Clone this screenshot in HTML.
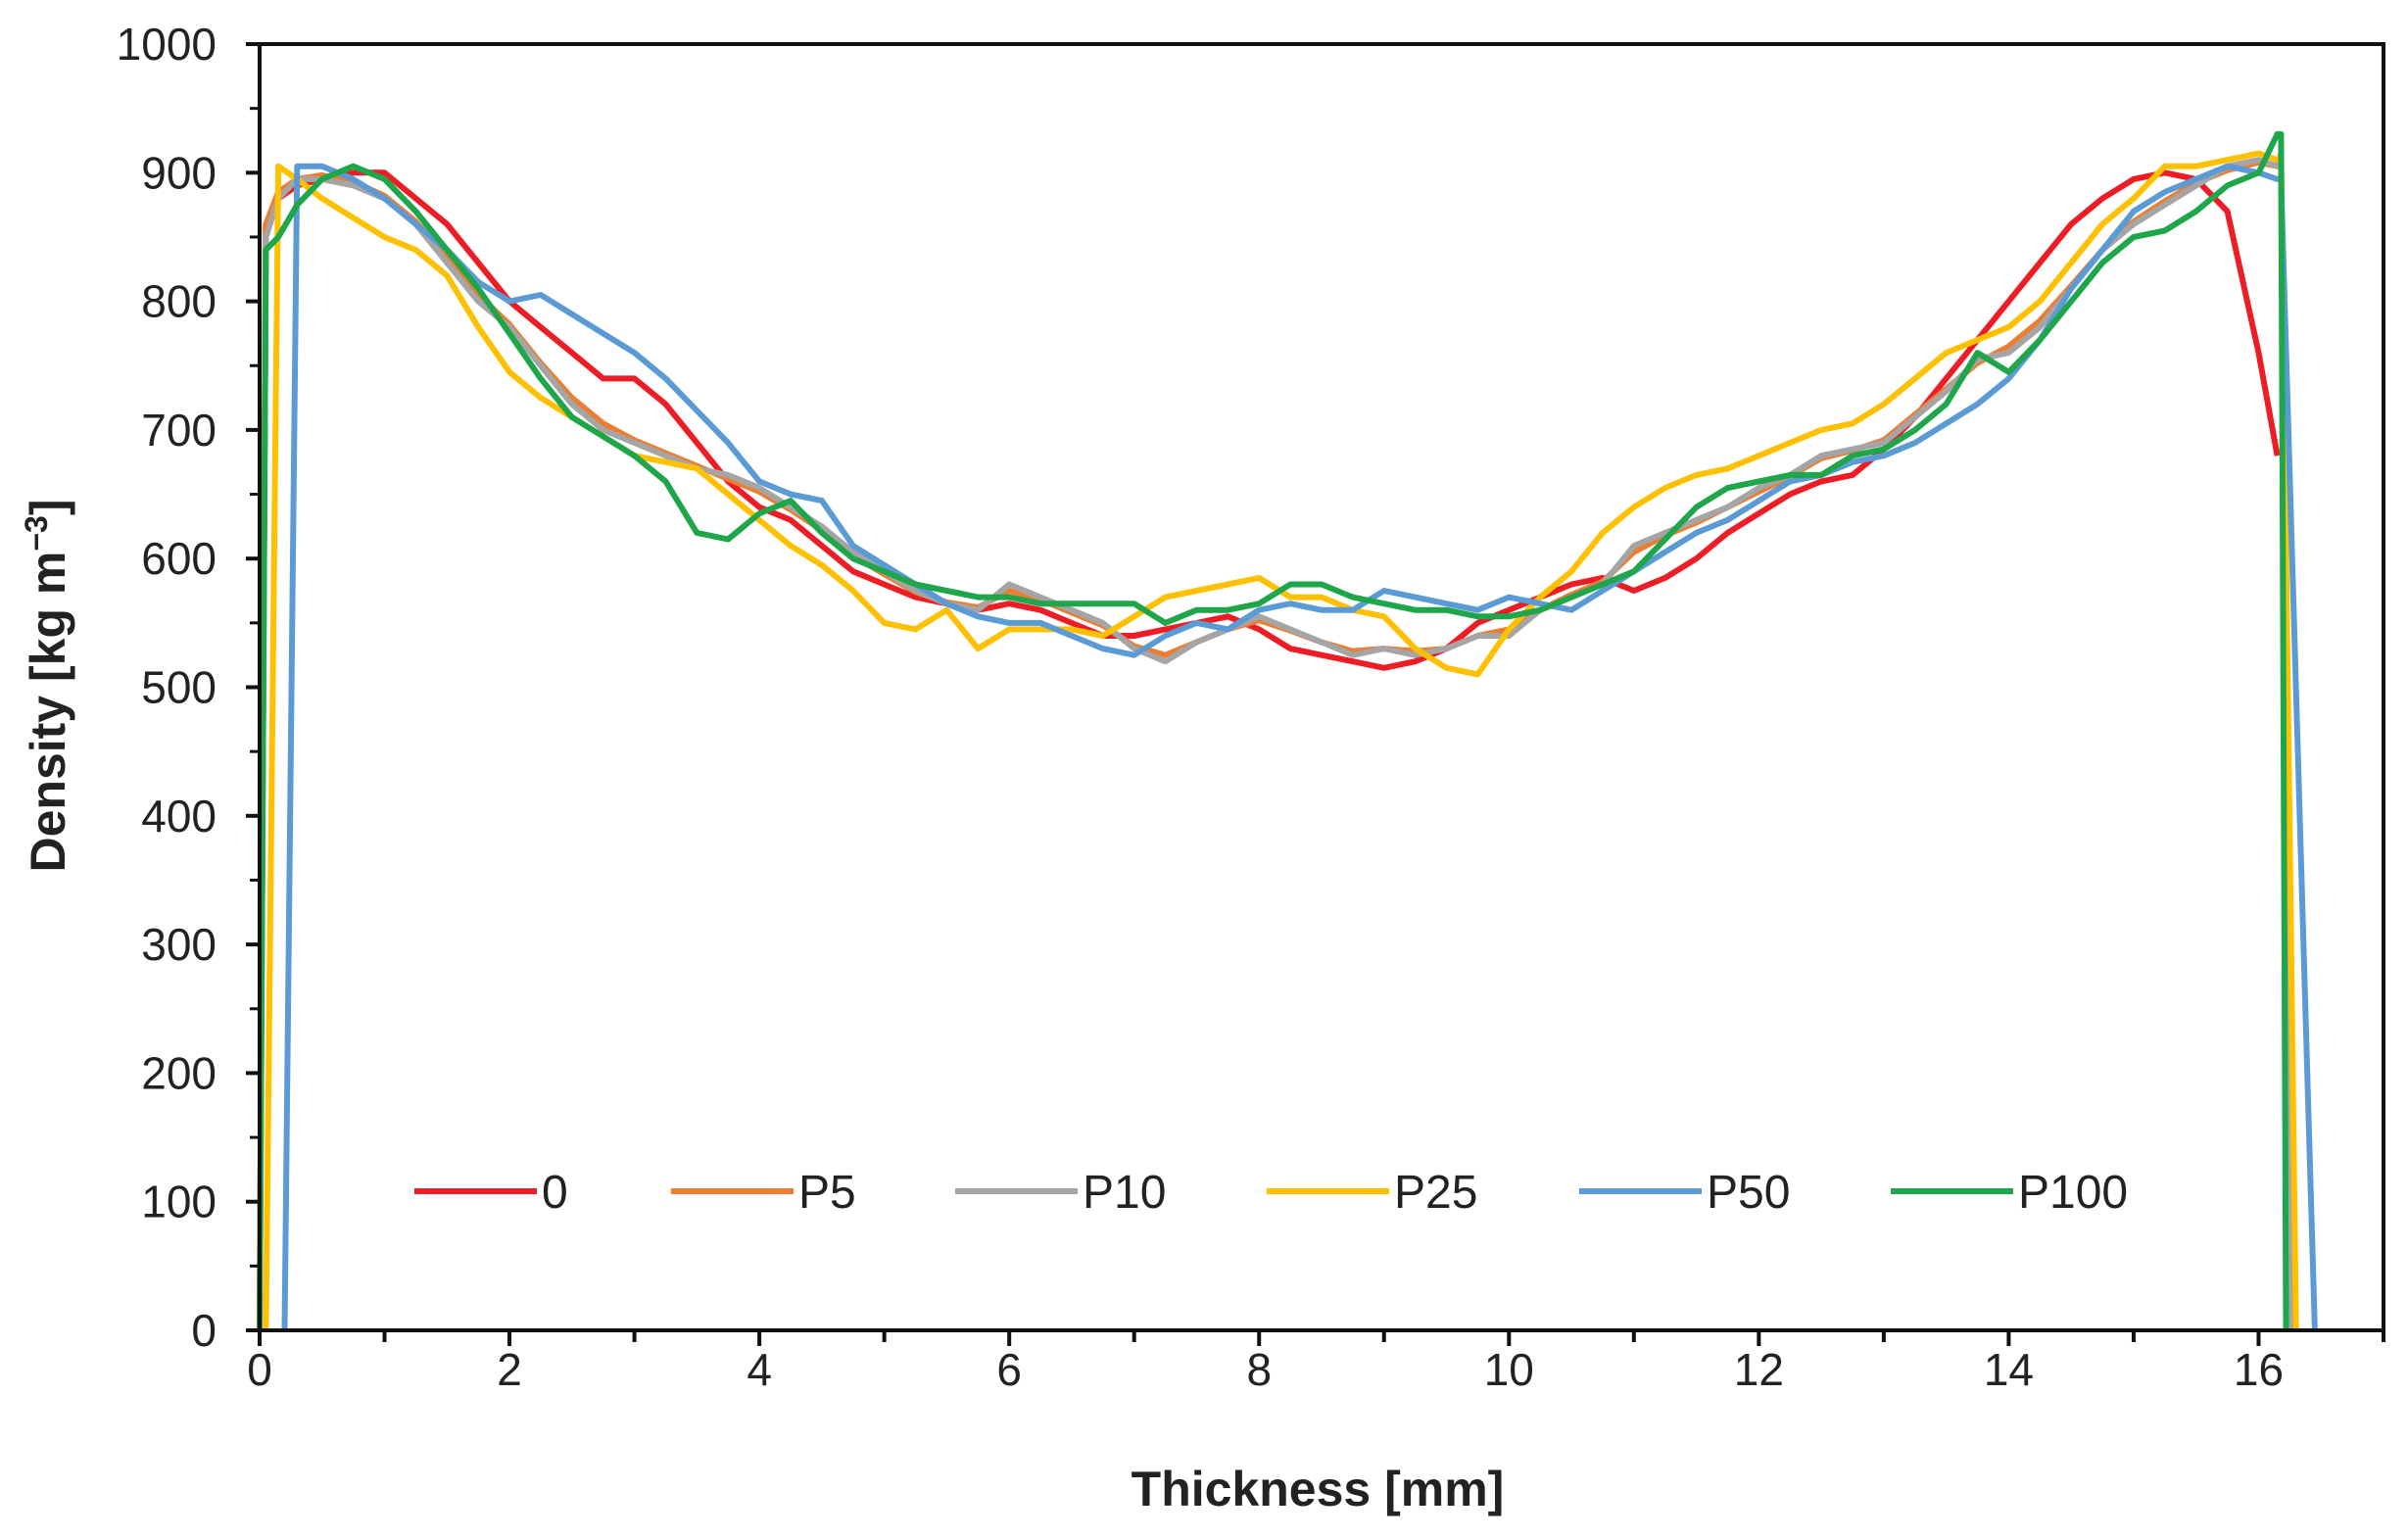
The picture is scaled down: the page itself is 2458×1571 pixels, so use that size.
<!DOCTYPE html>
<html><head><meta charset="utf-8"><style>
html,body{margin:0;padding:0;background:#fff;}
svg{display:block;font-family:"Liberation Sans",sans-serif;}
</style></head><body>
<svg id="chart" width="2458" height="1571" viewBox="0 0 2458 1571" xmlns="http://www.w3.org/2000/svg">
<g id="series"></g>
<g id="axes"></g>
<g id="legend"></g>
<text x="0" y="0" transform="translate(66,700) rotate(-90)" text-anchor="middle" font-size="50" font-weight="bold" fill="#222">Density [kg m<tspan dy="-18" font-size="32">−3</tspan><tspan dy="18">]</tspan></text>
<text x="1345" y="1537" text-anchor="middle" font-size="50" font-weight="bold" fill="#222">Thickness [mm]</text>
</svg>
<script>
const xs = [0.05,0.15,0.3,0.5,0.75,1,1.25,1.5,1.75,2,2.25,2.5,2.75,3,3.25,3.5,3.75,4,4.25,4.5,4.75,5,5.25,5.5,5.75,6,6.25,6.5,6.75,7,7.25,7.5,7.75,8,8.25,8.5,8.75,9,9.25,9.5,9.75,10,10.25,10.5,10.75,11,11.25,11.5,11.75,12,12.25,12.5,12.75,13,13.25,13.5,13.75,14,14.25,14.5,14.75,15,15.25,15.5,15.75,16,16.15];
const names = ["0","P5","P10","P25","P50","P100"];
const startX = [0.0,0.0,0.0,0.05,0.2,0.0];
const endX = [null,16.27,16.25,16.3,16.45,16.22];
const peakY = [null,915,910,912,895,930];
const y0 = [860,880,890,895,900,900,880,860,830,800,780,760,740,740,720,690,660,640,630,610,590,580,570,565,560,565,560,550,540,540,545,550,555,545,530,525,520,515,520,530,550,560,570,580,585,575,585,600,620,635,650,660,665,685,710,740,770,800,830,860,880,895,900,895,870,760,680];
const yP5 = [860,885,895,898,893,882,862,835,805,782,752,725,705,692,682,672,662,652,638,622,602,588,574,566,562,575,568,558,548,532,525,535,545,552,544,535,528,530,528,530,540,545,560,572,582,605,618,628,640,652,664,678,684,692,712,732,752,765,785,812,840,862,878,892,902,908,905];
const yP10 = [850,880,895,895,890,880,860,830,800,780,750,720,700,690,680,670,665,655,640,625,605,590,575,565,560,580,570,560,550,530,520,535,545,555,545,535,525,530,525,530,540,540,560,570,580,610,620,630,640,655,665,680,685,690,710,730,755,760,780,810,840,860,875,890,905,910,905];
const yP25 = [880,905,895,880,865,850,840,820,780,745,725,710,695,680,675,670,650,630,610,595,575,550,545,560,530,545,545,545,540,555,570,575,580,585,570,570,560,555,530,515,510,545,570,590,620,640,655,665,670,680,690,700,705,720,740,760,770,780,800,830,860,880,905,905,910,915,910];
const yP50 = [0,0,905,905,895,880,860,840,815,800,805,790,775,760,740,715,690,660,650,645,610,595,580,565,555,550,550,540,530,525,540,550,545,560,565,560,560,575,570,565,560,570,565,560,575,590,605,620,630,645,660,665,675,680,690,705,720,740,770,810,840,870,885,895,905,900,895];
const yP100 = [840,850,875,895,905,895,870,840,810,775,740,710,695,680,660,620,615,635,645,620,600,590,580,575,570,570,565,565,565,565,550,560,560,565,580,580,570,565,560,560,555,555,560,570,580,590,615,640,655,660,665,665,680,685,700,720,760,745,770,800,830,850,855,870,890,900,930];
const seriesY = [y0,yP5,yP10,yP25,yP50,yP100];
const colors = ["#ee1c25","#ed7d31","#a5a5a5","#ffc000","#5b9bd5","#1fa64a"];
const yTicks = [0,100,200,300,400,500,600,700,800,900,1000];
const xTicks = [0,2,4,6,8,10,12,14,16];

const L=265,R=2433,T=45,B=1358,XMAX=17,YMAX=1000;
const sx=v=>L+(R-L)*v/XMAX, sy=v=>B-(B-T)*v/YMAX;
const NS="http://www.w3.org/2000/svg";
function mk(tag,attrs,parent){const e=document.createElementNS(NS,tag);for(const k in attrs)e.setAttribute(k,attrs[k]);parent.appendChild(e);return e;}

const sg=document.getElementById('series');
const order=[0,1,2,3,4,5];
order.forEach(i=>{
  const ys=seriesY[i];
  let pts=[[sx(startX[i]),sy(0)]];
  xs.forEach((x,j)=>{ if(x>startX[i]) pts.push([sx(x),sy(ys[j])]); });
  if(endX[i]!==null){ pts.push([sx(16.18),sy(peakY[i])]); pts.push([sx(endX[i]),sy(0)]); }
  const p=mk('polyline',{points:pts.map(p=>p[0].toFixed(1)+','+p[1].toFixed(1)).join(' '),fill:'none',stroke:colors[i],'stroke-width':6,'stroke-linejoin':'round'},sg);
  
  
});

const ax=document.getElementById('axes');
const frame=mk('rect',{x:L,y:T,width:R-L,height:B-T,fill:'none',stroke:'#111','stroke-width':4},ax);


yTicks.forEach(v=>{
  const t=mk('line',{x1:L-14,x2:L,y1:sy(v),y2:sy(v),stroke:'#111','stroke-width':4},ax);
  
  
  if(v<1000){const m=mk('line',{x1:L-10,x2:L,y1:sy(v+50),y2:sy(v+50),stroke:'#111','stroke-width':3},ax);
  
  }
  const tx=mk('text',{x:L-44,y:sy(v)+16,'text-anchor':'end','font-size':46,fill:'#222'},ax);
  tx.textContent=v;
  
  
});
for(let k=0;k<=XMAX;k++){
  const t=mk('line',{x1:sx(k),x2:sx(k),y1:B,y2:B+(k%2===0?16:12),stroke:'#111','stroke-width':4},ax);
  
  
}
xTicks.forEach(v=>{
  const tx=mk('text',{x:sx(v),y:B+56,'text-anchor':'middle','font-size':46,fill:'#222'},ax);
  tx.textContent=v;
  
  
});

const lg=document.getElementById('legend');
const legX=[423,685,975,1293,1612,1930];
names.forEach((n,i)=>{
  const g=mk('g',{},lg);
  
  
  mk('line',{x1:legX[i],x2:legX[i]+125,y1:1216,y2:1216,stroke:colors[i],'stroke-width':6},g);
  const t=mk('text',{x:legX[i]+130,y:1233,'font-size':48,fill:'#222'},g);
  t.textContent=n;
});
</script>
</body></html>
